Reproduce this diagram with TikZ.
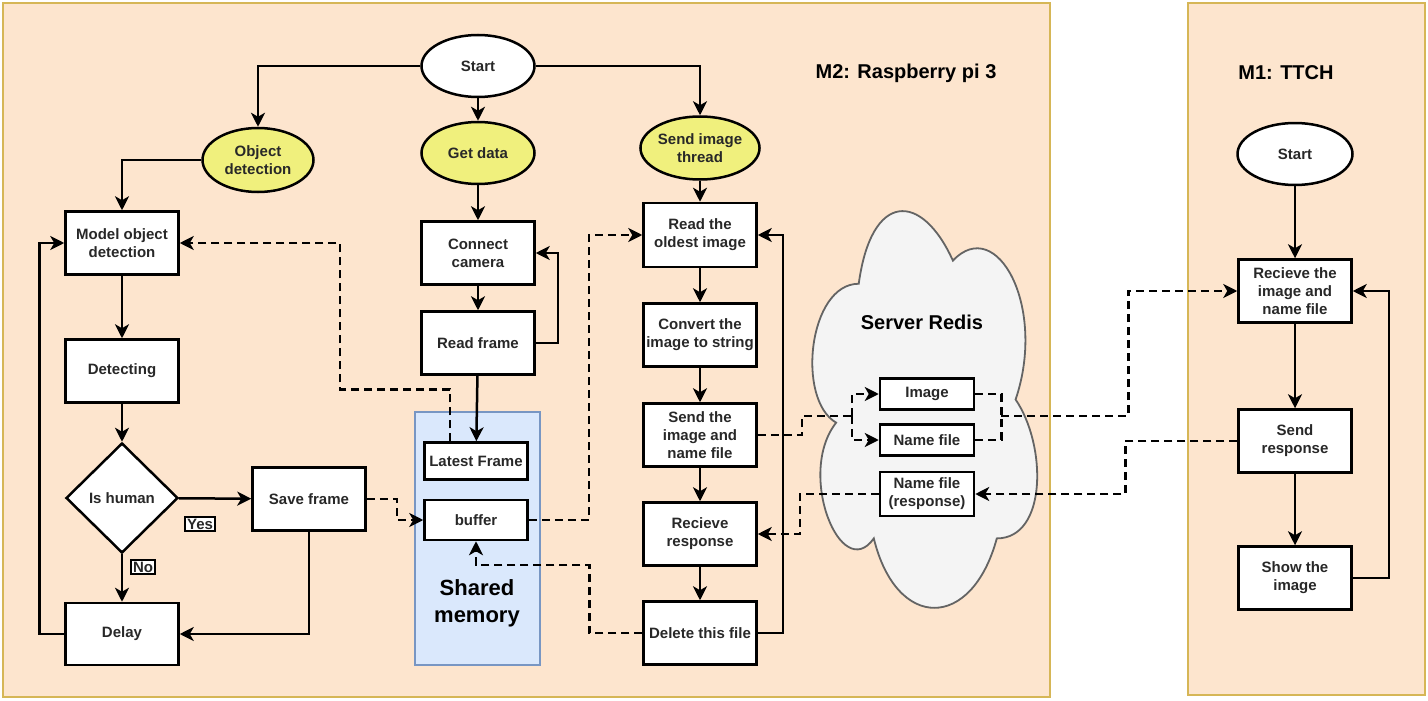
\documentclass[tikz,border=0pt]{standalone}
\usepackage{fontspec}
\setmainfont{Liberation Sans}
\usetikzlibrary{arrows.meta,shapes.geometric}
\definecolor{peach}{RGB}{253,229,206}
\definecolor{framegold}{RGB}{214,182,86}
\definecolor{threadyellow}{RGB}{240,240,125}
\definecolor{memblue}{RGB}{218,232,252}
\definecolor{memborder}{RGB}{120,150,195}
\definecolor{cloudgray}{RGB}{244,244,244}
\definecolor{cloudborder}{RGB}{100,100,100}
\definecolor{txt}{RGB}{40,40,40}
\tikzset{
	box/.style={draw, fill=white, minimum width=113pt, minimum height=63pt, inner sep=2pt, align=center, text=txt},
	smallbox/.style={draw, fill=white, minimum width=94pt, minimum height=31pt, inner sep=2pt, align=center, text=txt},
	terminal/.style={draw, ellipse, fill=white, minimum width=113pt, minimum height=62pt, inner sep=0pt, align=center, text=txt},
	thread/.style={terminal, fill=threadyellow},
	decision/.style={draw, diamond, fill=white, minimum width=112pt, minimum height=110pt, inner sep=0pt, text=txt},
	tag/.style={draw, fill=white, inner sep=2pt, line width=1.8pt, font=\fontsize{15}{17}\selectfont\bfseries, text=txt},
	title/.style={font=\fontsize{20}{24}\selectfont\bfseries},
	flow/.style={->},
	dataflow/.style={->, dash pattern=on 8pt off 5pt},
	dataline/.style={dash pattern=on 8pt off 5pt}
}
\begin{document}
\begin{tikzpicture}[x=1pt, y=-1pt, line width=2.5pt,
		font=\fontsize{15}{18}\selectfont\bfseries,
		>={Stealth[length=14pt, width=14pt, inset=4pt]}]
	\useasboundingbox (0,0) rectangle (1428,701);
	% machine frames
	\filldraw [fill=peach, draw=framegold, line width=2.8pt] (3,3) rectangle (1050,697);
	\filldraw [fill=peach, draw=framegold, line width=2.8pt] (1188,3) rectangle (1425,695);
	\node (m2title) [title] at (906,73) {M2: Raspberry pi 3};
	\node (m1title) [title] at (1286,73) {M1: TTCH};

	% redis cloud
	\filldraw [fill=cloudgray, draw=cloudborder, line width=1.8pt]
		(858.75,283.75) .. controls (808.55,283.75) and (796,399.5) .. (836.16,422.65)
		.. controls (796,473.58) and (841.18,584.7) .. (873.81,538.4)
		.. controls (896.4,631) and (971.7,631) .. (996.8,538.4)
		.. controls (1047,538.4) and (1047,445.8) .. (1015.6,399.5)
		.. controls (1047,306.9) and (996.8,214.3) .. (952.9,260.6)
		.. controls (921.5,191.15) and (871.3,191.15) .. (858.75,283.75) -- cycle;
	\node (redis) [title] at (922,322) {Server Redis};

	% shared memory
	\node (shm) [draw=memborder, fill=memblue, minimum width=125pt, minimum height=253pt, inner sep=0pt, line width=1.8pt] at (477.5,538.5) {};
	\node (shmtext) [align=center, font=\fontsize{22}{27}\selectfont\bfseries] at (477,603) {Shared\\memory};

	% M2 nodes
	\node (start) [terminal] at (478,66) {Start};
	\node (objdet) [thread, minimum width=111pt, minimum height=64pt] at (258,160) {Object\\detection};
	\node (getdata) [thread] at (478,153) {Get data};
	\node (sendthread) [thread, minimum width=114pt, minimum height=63pt] at (700,148) {Send image\\thread};

	\node (model) [box] at (122,243) {Model object\\detection};
	\node (detecting) [box] at (122,371) {Detecting};
	\node (ishuman) [decision] at (122,498) {Is human};
	\node (delay) [box, minimum height=62pt] at (122,634) {Delay};
	\node (saveframe) [box] at (309,499) {Save frame};

	\node (connect) [box] at (478,253) {Connect\\camera};
	\node (readframe) [box] at (478,343) {Read frame};
	\node (latest) [box, minimum width=103pt, minimum height=37pt] at (476,461) {Latest Frame};
	\node (buffer) [box, minimum width=103pt, minimum height=40pt] at (476,520) {buffer};

	\node (readold) [box, minimum height=64pt] at (700,235) {Read the\\oldest image};
	\node (convert) [box] at (700,335) {Convert the\\image to string};
	\node (sendimg) [box] at (700,435) {Send the\\image and\\name file};
	\node (recvresp) [box] at (700,534) {Recieve\\response};
	\node (delete) [box] at (700,633) {Delete this file};

	\node (redimg) [smallbox] at (927,394) {Image};
	\node (redname) [smallbox] at (927,440) {Name file};
	\node (redresp) [smallbox, minimum height=44pt] at (927,494) {Name file\\(response)};

	% M1 nodes
	\node (start1) [terminal, minimum width=115pt] at (1295,154) {Start};
	\node (recvimg) [box] at (1295,291) {Recieve the\\image and\\name file};
	\node (sendresp) [box] at (1295,441) {Send\\response};
	\node (showimg) [box] at (1295,578) {Show the\\image};

	% control flow M2
	\draw [flow] (start.west) -| (objdet.north);
	\draw [flow] (start) -- (getdata);
	\draw [flow] (start.east) -| (sendthread.north);
	\draw [flow] (objdet.west) -| (model.north);
	\draw [flow] (model) -- (detecting);
	\draw [flow] (detecting) -- (ishuman);
	\draw [flow] (ishuman) -- (delay);
	\draw [flow] (ishuman) -- (saveframe);
	\draw [flow] (saveframe.south) |- (delay.east);
	\draw [flow] (delay.west) -- ++(-25,0) |- (model.west);
	\node (yes) [tag] at (200,524) {Yes};
	\node (no) [tag] at (143,567) {No};

	\draw [flow] (getdata) -- (connect);
	\draw [flow] (connect) -- (readframe);
	\draw [flow] (readframe.east) -- ++(22,0) |- (connect.east);
	\draw [flow] (readframe) -- (latest);

	\draw [flow] (sendthread) -- (readold);
	\draw [flow] (readold) -- (convert);
	\draw [flow] (convert) -- (sendimg);
	\draw [flow] (sendimg) -- (recvresp);
	\draw [flow] (recvresp) -- (delete);
	\draw [flow] (delete.east) -- ++(25,0) |- (readold.east);

	% data flow through shared memory
	\draw [dataflow] ([xshift=-26pt]latest.north) -- ++(0,-52) -- ++(-110,0) |- (model.east);
	\draw [dataflow] (saveframe.east) -- ++(30,0) |- (buffer.west);
	\draw [dataflow] (buffer.east) -- ++(60,0) |- (readold.west);
	\draw [dataflow] (delete.west) -- ++(-53,0) -- ++(0,-68) -| (buffer.south);

	% data flow through redis
	\draw [dataline] (sendimg.east) -- ++(44,0) -- ++(0,-19) -- ++(50,0) coordinate (split);
	\draw [dataflow] (split) |- (redimg.west);
	\draw [dataflow] (split) |- (redname.west);
	\draw [dataline] (redimg.east) -- ++(26,0) -- ++(0,22) coordinate (join);
	\draw [dataline] (redname.east) -- ++(26,0) |- (join);
	\draw [dataflow] (join) -- ++(127,0) |- (recvimg.west);
	\draw [dataflow] (sendresp.west) -- ++(-112,0) |- (redresp.east);
	\draw [dataflow] (redresp.west) -- ++(-79,0) |- (recvresp.east);

	% control flow M1
	\draw [flow] (start1) -- (recvimg);
	\draw [flow] (recvimg) -- (sendresp);
	\draw [flow] (sendresp) -- (showimg);
	\draw [flow] (showimg.east) -- ++(36,0) |- (recvimg.east);
\end{tikzpicture}
\end{document}
